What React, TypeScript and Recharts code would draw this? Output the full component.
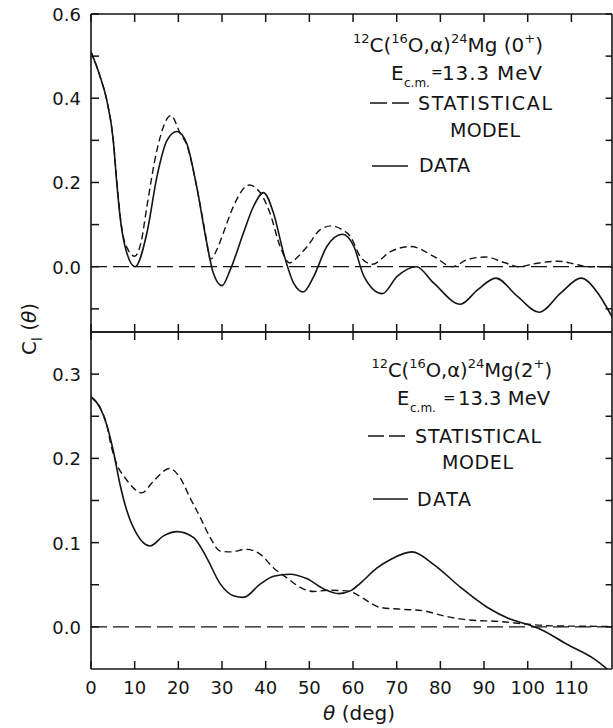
import React from "react";
import { LineChart, Line, XAxis, YAxis, ReferenceLine } from "recharts";

const FONT = "'DejaVu Sans', sans-serif";
const INK = "#141414";

// axis ticks
const thetaTicks = [0, 10, 20, 30, 40, 50, 60, 70, 80, 90, 100, 110];
const topYTicks = [-0.1, 0, 0.1, 0.2, 0.3, 0.4, 0.5, 0.6];
const topYLabels = [0, 0.2, 0.4, 0.6];
const botYTicks = [0, 0.05, 0.1, 0.15, 0.2, 0.25, 0.3];
const botYLabels = [0, 0.1, 0.2, 0.3];

// 0+ panel, data (solid)
const topDataTheta = [0, 2.1, 3.6, 5.1, 5.9, 6.65, 7.8, 10.1, 12.8, 15.1, 17.4, 19.7, 21.9, 24.2, 26.5, 28, 30, 31.9, 34.9, 37.2, 39.5, 41.8, 44.1, 46.4, 48.6, 51, 54, 57.6, 60.2, 62.5, 66.7, 70.1, 74.5, 78.5, 84.6, 88.5, 92.7, 97.6, 102.6, 107.6, 112.2, 116, 118, 120];
const topDataC = [0.51, 0.451, 0.396, 0.3, 0.199, 0.119, 0.048, 0.0, 0.08, 0.214, 0.3, 0.321, 0.293, 0.19, 0.057, -0.015, -0.045, -0.007, 0.08, 0.143, 0.176, 0.127, 0.032, -0.039, -0.06, -0.023, 0.048, 0.077, 0.048, -0.023, -0.064, -0.023, 0.0, -0.039, -0.089, -0.055, -0.027, -0.07, -0.108, -0.062, -0.027, -0.062, -0.095, -0.132];

// 0+ panel, statistical model (dashed)
const topModelTheta = [0, 2.1, 3.6, 5.1, 5.9, 7.0, 8.5, 10.0, 11.5, 12.8, 15.1, 18.3, 20.4, 21.9, 24.2, 26.0, 27.4, 28.8, 30.3, 32.6, 36.2, 38.8, 41.0, 43.3, 45.5, 47.5, 49.5, 52.5, 55.0, 57.5, 59.4, 61.6, 64.4, 68.6, 73.2, 78.6, 82.7, 86.2, 90.4, 94.6, 98.0, 101.4, 107.0, 110.5, 113.7, 120];
const topModelC = [0.51, 0.451, 0.396, 0.3, 0.205, 0.095, 0.04, 0.025, 0.06, 0.143, 0.277, 0.359, 0.317, 0.29, 0.19, 0.09, 0.018, 0.04, 0.08, 0.143, 0.194, 0.175, 0.127, 0.048, 0.009, 0.025, 0.048, 0.088, 0.097, 0.088, 0.072, 0.025, 0.006, 0.036, 0.048, 0.024, 0.0, 0.017, 0.023, 0.01, 0.0, 0.007, 0.013, 0.007, 0.0, 0.0];

// 2+ panel, data (solid)
const botDataTheta = [0, 2.1, 3.6, 5.1, 6.65, 8.2, 10.5, 13.5, 16.6, 19.7, 23.5, 26.5, 29.6, 32.6, 34.9, 38.8, 41.8, 45.6, 49.5, 53.3, 56.7, 59.5, 61.7, 65.5, 68.6, 73.5, 78.5, 84.6, 90.8, 96.1, 99.9, 103, 109.1, 115.2, 120];
const botDataC = [0.273, 0.26, 0.24, 0.209, 0.169, 0.138, 0.11, 0.096, 0.108, 0.113, 0.106, 0.082, 0.051, 0.037, 0.035, 0.051, 0.06, 0.0625, 0.057, 0.045, 0.0395, 0.043, 0.052, 0.07, 0.08, 0.089, 0.074, 0.047, 0.023, 0.009, 0.003, -0.003, -0.021, -0.038, -0.058];

// 2+ panel, statistical model (dashed)
const botModelTheta = [0, 2.1, 3.6, 4.7, 5.9, 7.8, 9.7, 11.6, 14.3, 18.0, 20.4, 22.7, 25.0, 27.3, 29.6, 31.9, 35.7, 38.8, 41.8, 44.9, 47.9, 51.0, 54.1, 58.6, 61.7, 63.5, 66.3, 70.9, 76.2, 80.8, 86.2, 93.8, 99.9, 105.3, 112, 120];
const botModelC = [0.273, 0.26, 0.24, 0.213, 0.193, 0.177, 0.165, 0.159, 0.173, 0.188, 0.177, 0.153, 0.13, 0.106, 0.09, 0.089, 0.092, 0.086, 0.07, 0.058, 0.047, 0.042, 0.0435, 0.0427, 0.036, 0.03, 0.023, 0.021, 0.019, 0.013, 0.0083, 0.0063, 0.0032, 0.0012, 0.0008, 0.0005];

const toPoints = (t: number[], c: number[]) => t.map((theta, i) => ({ theta, c: c[i] }));

const X_DOMAIN: [number, number] = [0, 119.3];
const CHART_W = 613;
const Y_AXIS_W = 91;
const PLOT_W = CHART_W - Y_AXIS_W - 1;
const TICK_PX = 8;

const has = (list: number[], v: number) => list.some((l) => Math.abs(l - v) < 1e-6);

// labels only; the inward tick marks are reference segments below
const xLabel = (show: boolean) => (p: any) =>
  show ? (
    <text x={p.x} y={p.y + 25} textAnchor="middle" fontSize={18} fontFamily={FONT} fill={INK}>
      {p.payload.value}
    </text>
  ) : (
    <g />
  );

const yLabel = (labels: number[]) => (p: any) =>
  has(labels, p.payload.value) ? (
    <text x={p.x - 10} y={p.y + 7} textAnchor="end" fontSize={18} fontFamily={FONT} fill={INK}>
      {Number(p.payload.value).toFixed(1)}
    </text>
  ) : (
    <g />
  );

interface PanelProps {
  top: number;
  height: number;
  marginTop: number;
  bottomAxisHeight: number;
  domain: [number, number];
  yTicks: number[];
  yLabels: number[];
  data: { theta: number; c: number }[];
  model: { theta: number; c: number }[];
  xLabels: boolean;
}

function Panel(props: PanelProps) {
  const axisLine = { stroke: INK, strokeWidth: 1.6 };
  const plotH = props.height - props.marginTop - 1 - props.bottomAxisHeight;
  const [y0, y1] = props.domain;
  const [x0, x1] = X_DOMAIN;
  // tick length converted to data units
  const dy = (TICK_PX * (y1 - y0)) / plotH;
  const dx = (TICK_PX * (x1 - x0)) / PLOT_W;
  const tickStyle = { stroke: INK, strokeWidth: 1.5, ifOverflow: "visible" as const };

  return (
    <div style={{ position: "absolute", left: 0, top: props.top }}>
      <LineChart
        width={CHART_W}
        height={props.height}
        margin={{ top: props.marginTop, right: 0, bottom: 0, left: 0 }}
      >
        <XAxis
          type="number"
          dataKey="theta"
          domain={X_DOMAIN}
          allowDataOverflow
          ticks={thetaTicks}
          interval={0}
          height={props.bottomAxisHeight}
          tickSize={0}
          tickMargin={0}
          axisLine={axisLine}
          tickLine={false}
          tick={xLabel(props.xLabels)}
        />
        <XAxis
          xAxisId="top"
          orientation="top"
          type="number"
          dataKey="theta"
          domain={X_DOMAIN}
          allowDataOverflow
          height={1}
          axisLine={axisLine}
          tickLine={false}
          tick={false}
        />
        <YAxis
          type="number"
          domain={props.domain}
          allowDataOverflow
          ticks={props.yTicks}
          interval={0}
          width={Y_AXIS_W}
          tickSize={0}
          tickMargin={0}
          axisLine={axisLine}
          tickLine={false}
          tick={yLabel(props.yLabels)}
        />
        <YAxis
          yAxisId="right"
          orientation="right"
          type="number"
          domain={props.domain}
          allowDataOverflow
          width={1}
          axisLine={axisLine}
          tickLine={false}
          tick={false}
        />
        <ReferenceLine y={0} stroke={INK} strokeWidth={1.2} strokeDasharray="16 6" />

        {/* inward ticks on bottom and top edges */}
        {thetaTicks.map((t) => (
          <ReferenceLine key={`b${t}`} segment={[{ x: t, y: y0 }, { x: t, y: y0 + dy }]} {...tickStyle} />
        ))}
        {thetaTicks.map((t) => (
          <ReferenceLine key={`t${t}`} segment={[{ x: t, y: y1 }, { x: t, y: y1 - dy }]} {...tickStyle} />
        ))}
        {/* inward ticks on left and right edges */}
        {props.yTicks.map((v) => (
          <ReferenceLine key={`l${v}`} segment={[{ x: x0, y: v }, { x: x0 + dx, y: v }]} {...tickStyle} />
        ))}
        {props.yTicks.map((v) => (
          <ReferenceLine key={`r${v}`} segment={[{ x: x1, y: v }, { x: x1 - dx * 0.8, y: v }]} {...tickStyle} />
        ))}

        <Line
          data={props.model}
          dataKey="c"
          type="monotone"
          stroke={INK}
          strokeWidth={1.4}
          strokeDasharray="7 4"
          dot={false}
          isAnimationActive={false}
        />
        <Line
          data={props.data}
          dataKey="c"
          type="monotone"
          stroke={INK}
          strokeWidth={1.6}
          dot={false}
          isAnimationActive={false}
        />
      </LineChart>
    </div>
  );
}

function Reaction({ x, y, state, size }: { x: number; y: number; state: string; size: number }) {
  const s = Math.round(size * 0.66);
  const up = -size * 0.45;
  return (
    <text x={x} y={y} textAnchor="end" fontSize={size} fontFamily={FONT} fill={INK}>
      <tspan fontSize={s} dy={up}>12</tspan>
      <tspan dy={-up}>C(</tspan>
      <tspan fontSize={s} dy={up}>16</tspan>
      <tspan dy={-up}>O,α)</tspan>
      <tspan fontSize={s} dy={up}>24</tspan>
      <tspan dy={-up}>{state === "0" ? "Mg (0" : "Mg(2"}</tspan>
      <tspan fontSize={s} dy={up}>+</tspan>
      <tspan dy={-up}>)</tspan>
    </text>
  );
}

function Annotations() {
  const t = { fontFamily: FONT, fill: INK };
  return (
    <svg width={613} height={728} style={{ position: "absolute", left: 0, top: 0, pointerEvents: "none" }}>
      {/* 0+ panel */}
      <Reaction x={543} y={52} state="0" size={20} />
      <text x={391} y={80} fontSize={20} {...t}>E</text>
      <text x={404} y={87} fontSize={12} {...t}>c.m.</text>
      <text x={431} y={77} fontSize={14} {...t}>=</text>
      <text x={442} y={80} fontSize={20} textLength={100} lengthAdjust="spacing" {...t}>13.3 MeV</text>
      <line x1={370} x2={410} y1={103} y2={103} stroke={INK} strokeWidth={1.5} strokeDasharray="17 5" />
      <text x={418} y={110} fontSize={19} textLength={134} lengthAdjust="spacing" {...t}>STATISTICAL</text>
      <text x={450} y={137} fontSize={19} textLength={70} lengthAdjust="spacing" {...t}>MODEL</text>
      <line x1={372} x2={408} y1={166} y2={166} stroke={INK} strokeWidth={1.5} />
      <text x={419} y={172} fontSize={19} textLength={51} lengthAdjust="spacing" {...t}>DATA</text>

      {/* 2+ panel */}
      <Reaction x={552} y={377} state="2" size={19.5} />
      <text x={397} y={405} fontSize={19.5} {...t}>E</text>
      <text x={410} y={412} fontSize={12} {...t}>c.m.</text>
      <text x={443} y={403} fontSize={15} {...t}>=</text>
      <text x={458} y={405} fontSize={19.5} textLength={92} lengthAdjust="spacing" {...t}>13.3 MeV</text>
      <line x1={368} x2={407} y1={436} y2={436} stroke={INK} strokeWidth={1.5} strokeDasharray="16 5" />
      <text x={415} y={443} fontSize={19} textLength={126} lengthAdjust="spacing" {...t}>STATISTICAL</text>
      <text x={442} y={469} fontSize={19} textLength={71} lengthAdjust="spacing" {...t}>MODEL</text>
      <line x1={373} x2={408} y1={499} y2={499} stroke={INK} strokeWidth={1.5} />
      <text x={417} y={506} fontSize={19} textLength={54} lengthAdjust="spacing" {...t}>DATA</text>

      {/* axis titles */}
      <text transform="translate(36,329) rotate(-90)" textAnchor="middle" fontSize={20} {...t}>
        C<tspan fontSize={14} dy={6}>l</tspan>
        <tspan dy={-6}> (</tspan>
        <tspan fontStyle="italic">θ</tspan>)
      </text>
      <text x={359} y={720} textAnchor="middle" fontSize={20} {...t}>
        <tspan fontStyle="italic">θ</tspan> (deg)
      </text>
    </svg>
  );
}

export default function App() {
  return (
    <div style={{ position: "absolute", left: 0, top: 0, width: 613, height: 728, background: "#fff", fontFamily: FONT }}>
      <Panel
        top={0}
        height={333}
        marginTop={13}
        bottomAxisHeight={1}
        domain={[-0.155, 0.6]}
        yTicks={topYTicks}
        yLabels={topYLabels}
        data={toPoints(topDataTheta, topDataC)}
        model={toPoints(topModelTheta, topModelC)}
        xLabels={false}
      />
      <Panel
        top={331}
        height={397}
        marginTop={0}
        bottomAxisHeight={59}
        domain={[-0.05, 0.35]}
        yTicks={botYTicks}
        yLabels={botYLabels}
        data={toPoints(botDataTheta, botDataC)}
        model={toPoints(botModelTheta, botModelC)}
        xLabels={true}
      />
      <Annotations />
    </div>
  );
}
